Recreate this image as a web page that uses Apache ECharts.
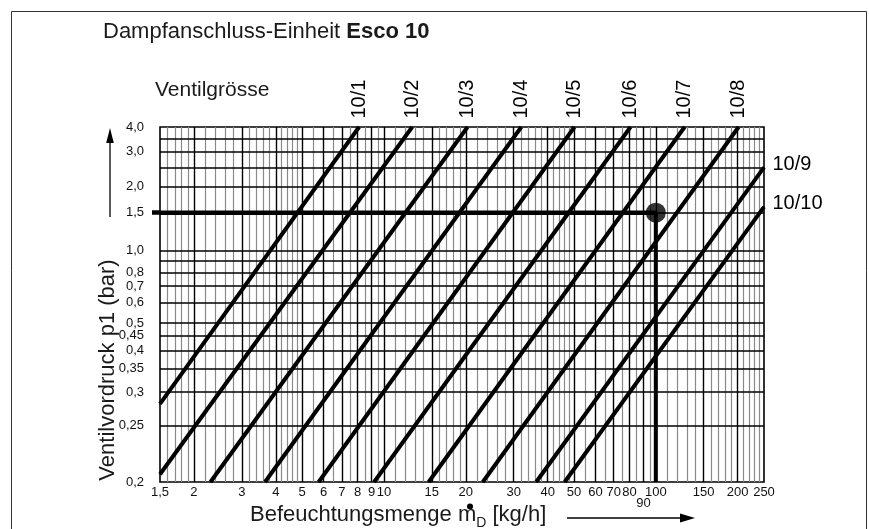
<!DOCTYPE html>
<html><head><meta charset="utf-8">
<script src="https://cdn.jsdelivr.net/npm/echarts@6/dist/echarts.min.js"></script>
<style>html,body{margin:0;padding:0;background:#fff}#c{width:869px;height:529px}</style>
</head><body><div id="c"></div>
<script>
// ---- data ----
const valveNames = ['10/1','10/2','10/3','10/4','10/5','10/6','10/7','10/8','10/9','10/10'];
const valveStartFlow = [1.5, 1.5, 2.3, 3.65, 5.75, 9.2, 14.6, 23.1, 36.3, 46.2];      // kg/h
const valveStartPressure = [0.28, 0.205, 0.2, 0.2, 0.2, 0.2, 0.2, 0.2, 0.2, 0.2];      // bar
const valveEndFlow = [8.1, 12.7, 20.3, 32, 50.2, 80.7, 127.6, 201.6, 250, 250];        // kg/h
const valveEndPressure = [4, 4, 4, 4, 4, 4, 4, 4, 2.5, 1.6];                           // bar

const readFlow = 100;      // kg/h
const readPressure = 1.5;  // bar

const xTickValues = [1.5,2,3,4,5,6,7,8,9,10,15,20,30,40,50,60,70,80,90,100,150,200,250];
const xTickLabels = ['1,5','2','3','4','5','6','7','8','9','10','15','20','30','40','50','60','70','80','90','100','150','200','250'];
const xMinorLines = [1.6,1.7,1.8,1.9,2.2,2.4,2.6,2.8,3.2,3.4,3.6,3.8,4.2,4.4,4.6,4.8,5.5,6.5,7.5,8.5,9.5,
  11,12,13,14,16,17,18,19,22,24,26,28,32,34,36,38,42,44,46,48,55,65,75,85,95,
  110,120,130,140,160,170,180,190,210,220,230,240];
const xMajorLines = [2,3,4,5,6,7,8,9,10,15,20,30,40,50,60,70,80,90,100,150,200];
const yTickValues = [4.0,3.0,2.0,1.5,1.0,0.8,0.7,0.6,0.5,0.45,0.4,0.35,0.3,0.25,0.2];
const yTickLabels = ['4,0','3,0','2,0','1,5','1,0','0,8','0,7','0,6','0,5','0,45','0,4','0,35','0,3','0,25','0,2'];
const yGridLines = [3.5,3.0,2.5,2.0,1.5,1.0,0.9,0.8,0.7,0.6,0.5,0.45,0.4,0.35,0.3,0.25];

// ---- pressure scale of the nomogram: logarithmic in (p - offset) ----
const P_OFFSET = 0.15;
const toAxis = p => Math.round((p - P_OFFSET) * 1e6) / 1e6;

const FONT = "'Liberation Sans', Arial, sans-serif";

function lookup(values, labels, v, conv) {
  for (let i = 0; i < values.length; i++) {
    const t = conv ? conv(values[i]) : values[i];
    if (Math.abs(t - v) < 1e-6 * Math.max(1, Math.abs(v))) return labels[i];
  }
  return '';
}

const series = [];
valveNames.forEach((name, i) => {
  const top = i < 8;
  series.push({
    type: 'line', name, z: 4, clip: true,
    symbol: 'circle', symbolSize: 1, showSymbol: true,
    itemStyle: { color: '#000' },
    lineStyle: { color: '#000', width: 4 },
    data: [
      [valveStartFlow[i], toAxis(valveStartPressure[i])],
      { value: [valveEndFlow[i], toAxis(valveEndPressure[i])],
        label: top ? {
          show: true, formatter: name, rotate: 90, position: 'top', distance: 8,
          align: 'left', verticalAlign: 'middle', fontSize: 20, fontFamily: FONT, color: '#000'
        } : {
          show: true, formatter: name, position: 'right', distance: 8, offset: [0, -3],
          align: 'left', verticalAlign: 'middle', fontSize: 20, fontFamily: FONT, color: '#000'
        } }
    ]
  });
});

const gridMarks = [];
xMinorLines.forEach(v => gridMarks.push({ xAxis: v, lineStyle: { color: '#8a8a8a', width: 1.2, type: 'solid' } }));
xMajorLines.forEach(v => gridMarks.push({ xAxis: v, lineStyle: { color: '#000', width: 1.4, type: 'solid' } }));
yGridLines.forEach(v => gridMarks.push({ yAxis: toAxis(v), lineStyle: { color: '#000', width: 1.6, type: 'solid' } }));

series.push({
  type: 'line', name: 'readH', z: 5, symbol: 'none',
  lineStyle: { color: '#000', width: 4.5 },
  data: [[1.5, toAxis(readPressure)], [readFlow, toAxis(readPressure)]],
  markLine: {
    silent: true, z: 1, symbol: ['none', 'none'], label: { show: false },
    lineStyle: { type: 'solid' }, emphasis: { disabled: true },
    data: gridMarks
  }
});
series.push({
  type: 'line', name: 'readV', z: 5, symbol: 'none',
  lineStyle: { color: '#000', width: 4 },
  data: [[readFlow, toAxis(readPressure)], [readFlow, toAxis(0.2)]]
});
series.push({
  type: 'scatter', name: 'point', z: 6, symbolSize: 20,
  itemStyle: { color: '#000' },
  data: [[readFlow, toAxis(readPressure)]]
});

const option = {
  animation: false,
  backgroundColor: '#fff',
  grid: { left: 160, top: 127, width: 604, height: 355, show: true, borderColor: '#000', borderWidth: 1.6 },
  xAxis: {
    type: 'log', logBase: 10, min: 1.5, max: 250,
    axisLine: { show: false }, axisTick: { show: false }, splitLine: { show: false },
    axisLabel: {
      customValues: xTickValues, margin: 4, fontSize: 13, fontFamily: FONT, color: '#111',
      formatter: v => { const s = lookup(xTickValues, xTickLabels, v); return s === '90' ? '{low|90}' : s; },
      rich: { low: { fontSize: 13, fontFamily: FONT, color: '#111', padding: [11, 0, 0, 0] } }
    }
  },
  yAxis: {
    type: 'log', logBase: 10, min: toAxis(0.2), max: toAxis(4.0),
    axisLine: { show: false }, splitLine: { show: false },
    axisTick: { show: true, customValues: [toAxis(readPressure)], length: 8, lineStyle: { color: '#000', width: 4.5 } },
    axisLabel: {
      customValues: yTickValues.map(toAxis), margin: 16, fontSize: 13, fontFamily: FONT, color: '#111',
      formatter: v => lookup(yTickValues, yTickLabels, v, toAxis)
    }
  },
  graphic: [
    { type: 'rect', silent: true, shape: { x: 11.5, y: 11.5, width: 855, height: 600 }, style: { fill: 'none', stroke: '#333', lineWidth: 1 } },
    { type: 'text', x: 103, y: 32, style: {
        text: '{n|Dampfanschluss-Einheit }{b|Esco 10}', verticalAlign: 'middle',
        rich: { n: { fontSize: 22, fontFamily: FONT, fill: '#1a1a1a' }, b: { fontSize: 22, fontWeight: 'bold', fontFamily: FONT, fill: '#1a1a1a' } } } },
    { type: 'text', x: 155, y: 90, style: { text: 'Ventilgrösse', fontSize: 21, fontFamily: FONT, fill: '#1a1a1a', verticalAlign: 'middle' } },
    { type: 'text', x: 108, y: 370, rotation: Math.PI / 2, style: { text: 'Ventilvordruck p1 (bar)', fontSize: 22, fontFamily: FONT, fill: '#1a1a1a', align: 'center', verticalAlign: 'middle' } },
    { type: 'line', shape: { x1: 110, y1: 217, x2: 110, y2: 140 }, style: { stroke: '#000', lineWidth: 1.3 } },
    { type: 'polygon', shape: { points: [[110, 128], [106.2, 143], [113.8, 143]] }, style: { fill: '#000' } },
    { type: 'text', x: 250, y: 515, style: {
        text: '{a|Befeuchtungsmenge m}{s|D}{a| [kg/h]}', verticalAlign: 'middle',
        rich: { a: { fontSize: 22, fontFamily: FONT, fill: '#1a1a1a', lineHeight: 30, verticalAlign: 'middle' },
                s: { fontSize: 14, fontFamily: FONT, fill: '#1a1a1a', lineHeight: 30, verticalAlign: 'bottom' } } } },
    { type: 'circle', shape: { cx: 470, cy: 506.5, r: 3 }, style: { fill: '#000' } },
    { type: 'line', shape: { x1: 567, y1: 518, x2: 682, y2: 518 }, style: { stroke: '#000', lineWidth: 1.3 } },
    { type: 'polygon', shape: { points: [[695, 518], [680, 513.6], [680, 522.4]] }, style: { fill: '#000' } }
  ],
  series
};

const chart = echarts.init(document.getElementById('c'), null, { renderer: 'canvas' });
chart.setOption(option);
</script>
</body></html>
